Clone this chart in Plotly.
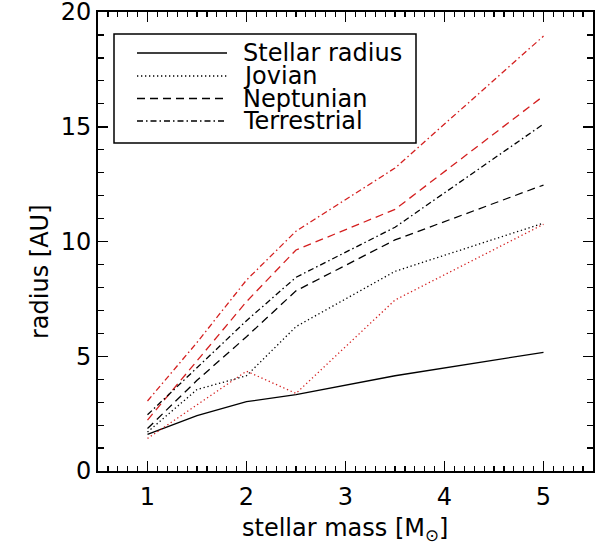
import plotly.graph_objects as go

# ---- data ----
mass = [1.0, 1.5, 2.0, 2.5, 3.5, 5.0]
stellar_radius = [1.6, 2.41, 3.02, 3.33, 4.15, 5.17]
jovian_black = [1.7, 3.55, 4.15, 6.29, 8.7, 10.8]
jovian_red = [1.42, 2.9, 4.35, 3.38, 7.45, 10.75]
neptunian_black = [1.85, 3.95, 5.85, 7.85, 10.07, 12.46]
neptunian_red = [2.22, 4.8, 7.38, 9.63, 11.4, 16.34]
terrestrial_black = [2.45, 4.5, 6.55, 8.44, 10.62, 15.12]
terrestrial_red = [3.05, 5.6, 8.32, 10.45, 13.2, 18.95]

legend_labels = ["Stellar radius", "Jovian", "Neptunian", "Terrestrial"]
x_tickvals = [1, 2, 3, 4, 5]
y_tickvals = [0, 5, 10, 15, 20]

BLACK = "#000000"
RED = "#d41f1f"
DOT = "1.3px,2.7px"
DASH = "8px,5px"
DASHDOT = "6px,3px,1.5px,3px"
LW = 1.3

series = [
    (stellar_radius, BLACK, "solid"),
    (jovian_red, RED, DOT),
    (jovian_black, BLACK, DOT),
    (neptunian_red, RED, DASH),
    (neptunian_black, BLACK, DASH),
    (terrestrial_red, RED, DASHDOT),
    (terrestrial_black, BLACK, DASHDOT),
]

fig = go.Figure()
for ys, col, dash in series:
    fig.add_trace(go.Scatter(x=mass, y=ys, mode="lines",
                             line=dict(color=col, width=LW, dash=dash),
                             showlegend=False, hoverinfo="skip"))

FONT = dict(family="DejaVu Sans", size=24, color="black")

axis_common = dict(
    showgrid=False, zeroline=False, showline=True, linecolor="black",
    linewidth=2, mirror="allticks", ticks="inside", tickcolor="black",
    tickwidth=1.5, ticklen=10, tickfont=FONT, automargin=False,
    ticklabeloverflow="allow",
)
fig.update_xaxes(range=[0.5, 5.5], tickvals=x_tickvals,
                 minor=dict(dtick=0.1, ticks="inside", ticklen=5,
                            tickcolor="black", tickwidth=1.2),
                 ticklabelstandoff=3,
                 **axis_common)
fig.update_yaxes(range=[0, 20], tickvals=y_tickvals,
                 minor=dict(dtick=1, ticks="inside", ticklen=6,
                            tickcolor="black", tickwidth=1.2),
                 ticklabelstandoff=0,
                 **axis_common)

W, H = 612, 546
P_L, P_R, P_T, P_B = 98, 593, 12, 471   # plot frame in pixels


def px(xp):
    return (xp - P_L) / (P_R - P_L)


def py(yp):
    return (P_B - yp) / (P_B - P_T)


# axis titles (placed as in the reference)
annotations = [
    dict(text="radius [AU]", xref="paper", yref="paper",
         x=px(40), y=py(272), textangle=-90, showarrow=False,
         xanchor="center", yanchor="middle", font=FONT),
    dict(text="stellar mass [M<sub>⊙</sub>]", xref="paper", yref="paper",
         x=px(345), y=py(529), showarrow=False,
         xanchor="center", yanchor="middle", font=FONT),
]

# custom legend box
shapes = [dict(type="rect", xref="paper", yref="paper",
               x0=px(114), x1=px(416), y0=py(143), y1=py(34),
               line=dict(color="black", width=1.5), fillcolor="white",
               layer="above")]
legend_styles = ["solid", DOT, DASH, DASHDOT]
row_y = [53, 76, 98.5, 121]
for lab, dsh, ry in zip(legend_labels, legend_styles, row_y):
    shapes.append(dict(type="line", xref="paper", yref="paper",
                       x0=px(137), x1=px(227), y0=py(ry), y1=py(ry),
                       line=dict(color="black", width=LW, dash=dsh),
                       layer="above"))
    annotations.append(dict(text=lab, xref="paper", yref="paper",
                            x=px(241), y=py(ry), showarrow=False,
                            xanchor="left", yanchor="middle", font=FONT))

fig.update_layout(
    width=W, height=H,
    margin=dict(l=P_L, r=W - P_R, t=P_T, b=H - P_B),
    paper_bgcolor="white", plot_bgcolor="white",
    font=FONT, shapes=shapes, annotations=annotations,
    showlegend=False,
)

fig.write_html(
    "out.html",
    config={"displayModeBar": False, "staticPlot": True},
    post_script="document.body.style.margin='0px';"
                "document.body.style.overflow='hidden';",
)
